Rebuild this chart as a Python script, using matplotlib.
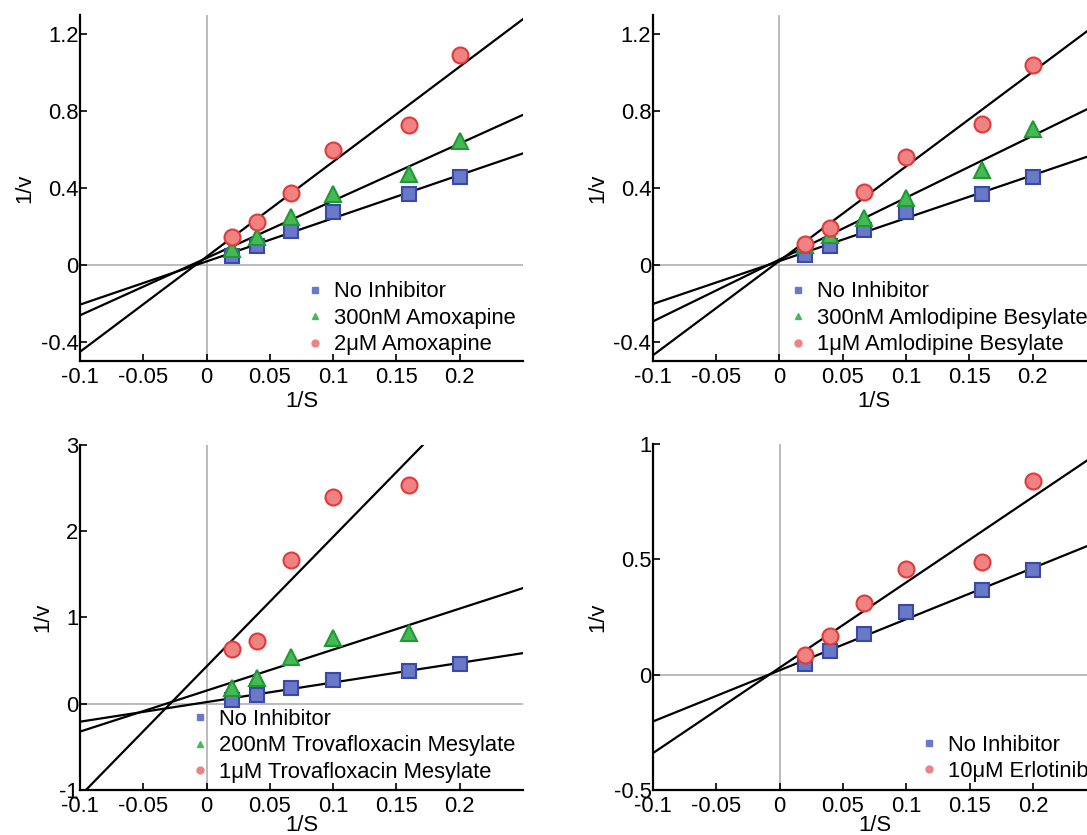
import numpy as np
import matplotlib
matplotlib.use('Agg')
import matplotlib.pyplot as plt
from matplotlib.lines import Line2D
from matplotlib.ticker import FuncFormatter

plt.rcParams['font.family'] = ['Liberation Sans', 'DejaVu Sans']
plt.rcParams['axes.unicode_minus'] = False

# 1/S values (S = 50, 25, 15, 10, 6.25, 5)
inv_s = [0.02, 0.04, 0.0667, 0.1, 0.16, 0.2]

amox_none = [0.05, 0.10, 0.18, 0.275, 0.37, 0.46]
amox_300nM = [0.083, 0.147, 0.252, 0.368, 0.475, 0.644]
amox_2uM = [0.149, 0.224, 0.373, 0.597, 0.727, 1.09]

amlo_none = [0.052, 0.10, 0.181, 0.276, 0.371, 0.458]
amlo_300nM = [0.104, 0.155, 0.247, 0.351, 0.497, 0.708]
amlo_1uM = [0.109, 0.195, 0.382, 0.561, 0.731, 1.038]

trova_none = [0.046, 0.104, 0.181, 0.278, 0.375, 0.463]
trova_200nM = [0.181, 0.297, 0.541, 0.761, 0.819]
trova_1uM = [0.634, 0.733, 1.668, 2.40, 2.534]

erlo_none = [0.048, 0.101, 0.175, 0.27, 0.367, 0.453]
erlo_10uM = [0.087, 0.167, 0.309, 0.458, 0.49, 0.84]

x_ticks = [-0.1, -0.05, 0, 0.05, 0.1, 0.15, 0.2]

styles = {
    'blue': dict(marker='s', mfc='#6a78c8', mec='#3a48a8', ms=9.5),
    'green': dict(marker='^', mfc='#45b956', mec='#1e9a30', ms=11.5),
    'red': dict(marker='o', mfc='#f08282', mec='#e23a3a', ms=11.5),
}

panels = [
    # rect, ylim, yticks, series, legend anchor, xlabel pad
    ([0.0736, 0.5671, 0.4075, 0.4150], (-0.5, 1.3), [-0.4, 0, 0.4, 0.8, 1.2],
     [(amox_none, 'blue', 'No Inhibitor'),
      (amox_300nM, 'green', '300nM Amoxapine'),
      (amox_2uM, 'red', '2μM Amoxapine')], (0.511, 0.231), 2),
    ([0.6005, 0.5671, 0.4078, 0.4150], (-0.5, 1.3), [-0.4, 0, 0.4, 0.8, 1.2],
     [(amlo_none, 'blue', 'No Inhibitor'),
      (amlo_300nM, 'green', '300nM Amlodipine Besylate'),
      (amlo_1uM, 'red', '1μM Amlodipine Besylate')], (0.308, 0.231), 2),
    ([0.0736, 0.0539, 0.4075, 0.4132], (-1, 3), [-1, 0, 1, 2, 3],
     [(trova_none, 'blue', 'No Inhibitor'),
      (trova_200nM, 'green', '200nM Trovafloxacin Mesylate'),
      (trova_1uM, 'red', '1μM Trovafloxacin Mesylate')], (0.252, 0.235), -1),
    ([0.6007, 0.0539, 0.4078, 0.4144], (-0.5, 1), [-0.5, 0, 0.5, 1],
     [(erlo_none, 'blue', 'No Inhibitor'),
      (erlo_10uM, 'red', '10μM Erlotinib')], (0.604, 0.160), -1),
]

fig = plt.figure(figsize=(10.87, 8.35), dpi=100)
fmt = FuncFormatter(lambda v, p: '%g' % v)
xfit = np.array([-0.1, 0.25])
fs = 15.8

for rect, ylim, yticks, series, anchor, xpad in panels:
    ax = fig.add_axes(rect)
    ax.set_xlim(-0.1, 0.25)
    ax.set_ylim(*ylim)
    ax.axvline(0, color='#a8a8a8', lw=1.1, zorder=1)
    ax.axhline(0, color='#a8a8a8', lw=1.1, zorder=1)

    handles = []
    for yvals, col, label in series:
        xs = inv_s[:len(yvals)]
        k, b = np.polyfit(xs, yvals, 1)
        ax.plot(xfit, k * xfit + b, color='black', lw=1.6, zorder=2)
        st = styles[col]
        ax.plot(xs, yvals, ls='none', marker=st['marker'], ms=st['ms'],
                mfc=st['mfc'], mec=st['mec'], mew=1.5, zorder=3)
        handles.append(Line2D([], [], ls='none', marker=st['marker'], ms=5,
                              mfc=st['mfc'], mec=st['mfc'], label=label))

    ax.legend(handles=handles, loc='upper left', bbox_to_anchor=anchor,
              frameon=False, fontsize=fs, borderpad=0, handlelength=0.8,
              handletextpad=0.45, labelspacing=0.25, borderaxespad=0)

    for side in ['top', 'right']:
        ax.spines[side].set_visible(False)
    for side in ['left', 'bottom']:
        ax.spines[side].set_linewidth(1.6)
    ax.set_xticks(x_ticks)
    ax.set_yticks(yticks)
    ax.xaxis.set_major_formatter(fmt)
    ax.yaxis.set_major_formatter(fmt)
    ax.tick_params(direction='in', length=5, width=1.2, labelsize=fs)
    ax.tick_params(axis='x', pad=4)
    ax.tick_params(axis='y', pad=1)
    ax.set_xlabel('1/S', fontsize=fs, labelpad=xpad)
    ax.set_ylabel('1/v', fontsize=fs, labelpad=4)

fig.savefig('out.png', dpi=100)
